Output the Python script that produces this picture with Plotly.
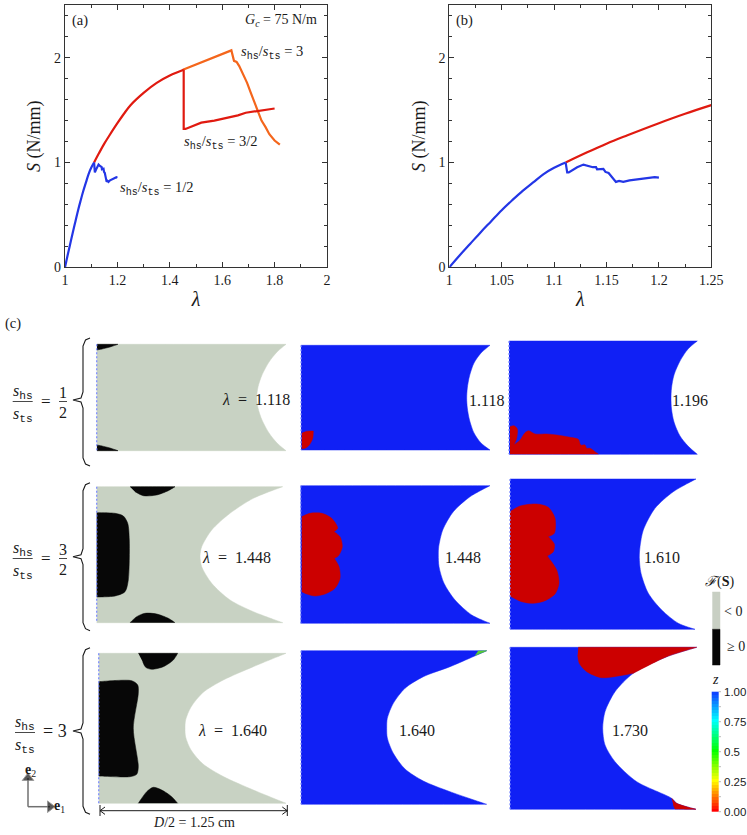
import plotly.graph_objects as go

W, H = 747, 835
FONT = "Liberation Serif"
INK = "#1a1a1a"

# load curves (a) and (b)
BLUE_RISE_LAM = [1.0, 1.01, 1.02, 1.03, 1.04, 1.05, 1.06, 1.07, 1.08, 1.09, 1.10, 1.111]
BLUE_RISE_S = [0.0, 0.115, 0.225, 0.335, 0.44, 0.545, 0.64, 0.73, 0.81, 0.89, 0.95, 1.0]
BLUE_DROP_LAM = [1.111, 1.1125, 1.114, 1.118, 1.122, 1.128, 1.132, 1.137, 1.14, 1.141, 1.147, 1.149, 1.152, 1.154, 1.156,
                 1.159, 1.162, 1.166, 1.172, 1.18, 1.19, 1.196, 1.2]
BLUE_DROP_S = [1.0, 0.905, 0.905, 0.93, 0.955, 0.98, 0.97, 0.955, 0.955, 0.935, 0.94, 0.91, 0.9, 0.875, 0.85,
               0.815, 0.825, 0.815, 0.83, 0.84, 0.855, 0.86, 0.855]
RED_RISE_LAM = [1.111, 1.13, 1.15, 1.17, 1.2, 1.225, 1.25, 1.3, 1.35, 1.4, 1.453]
RED_RISE_S = [1.0, 1.09, 1.18, 1.26, 1.375, 1.465, 1.547, 1.665, 1.76, 1.83, 1.885]
RED_DROP_LAM = [1.453, 1.453, 1.46, 1.48, 1.52, 1.57, 1.62, 1.66, 1.69, 1.73, 1.77, 1.8]
RED_DROP_S = [1.885, 1.32, 1.32, 1.34, 1.38, 1.4, 1.425, 1.45, 1.475, 1.49, 1.505, 1.515]
ORANGE_LAM = [1.45, 1.5, 1.55, 1.6, 1.635, 1.645, 1.655, 1.665, 1.68, 1.695, 1.71, 1.725, 1.74, 1.75, 1.765, 1.78, 1.8, 1.82]
ORANGE_S = [1.885, 1.935, 1.985, 2.035, 2.07, 1.97, 1.96, 1.92, 1.84, 1.76, 1.66, 1.56, 1.48, 1.4, 1.34, 1.27, 1.21, 1.17]

# specimen outlines, page pixels: (left, top, bottom) and the notch edge from top tip to bottom tip
R1C1 = (96.7, 344.3, 450.7)
R1C1_NOTCH = [(286, 344.3), (277, 352), (269, 362), (262, 375), (258, 387), (256.7, 397.5), (258, 408), (262, 420), (269, 433), (277, 443), (286, 450.7)]
R1C2 = (301, 345.3, 450)
R1C2_NOTCH = [(490, 345.3), (481, 353), (474, 363), (469.5, 376), (467.3, 388), (466.7, 398.3), (467.3, 408), (469.5, 420), (474, 433), (481, 443), (490, 450)]
R1C3 = (509, 341, 454.3)
R1C3_NOTCH = [(697.3, 341), (688, 349), (680, 361), (674, 375), (671.5, 388), (671, 398.3), (671.5, 409), (674, 422), (680, 436), (688, 446), (697.3, 454.3)]
R2C1 = (96.7, 486.7, 622.7)
R2C1_NOTCH = [(282.7, 486.7), (253.3, 498.3), (230, 513.3), (211.7, 530), (201.7, 546.7), (200, 556), (201.7, 566.7), (211.7, 583.3), (230, 600), (253.3, 611.7), (282.7, 622.7)]
R2C2 = (300.7, 485.7, 623.3)
R2C2_NOTCH = [(490, 485.7), (470, 496.7), (453.3, 511.7), (442.7, 530), (438.7, 546.7), (438.3, 555), (439, 566.7), (444, 583.3), (455, 600), (471.7, 615), (490, 623.3)]
R2C3 = (510, 479, 629.3)
R2C3_NOTCH = [(696, 479), (673.3, 491.7), (655, 508.3), (643.3, 530), (640, 546.7), (639.3, 557.3), (641, 573.3), (648.3, 593.3), (661.7, 610), (678.3, 623.3), (695, 629.3)]
R3C1 = (98.7, 653.3, 803.3)
R3C1_NOTCH = [(286, 653.3), (253.3, 666.7), (223.3, 680), (203, 692.5), (191, 707), (185.6, 720), (185, 728.3), (185.6, 737), (191, 750), (203, 764), (223.3, 776.5), (253.3, 790), (286, 803.3)]
R3C2 = (301, 650.7, 804.3)
R3C2_NOTCH = [(486.7, 650.7), (450, 666.7), (423.3, 676.7), (405, 688.3), (393.3, 703.3), (387.3, 718.3), (386.7, 728.3), (387.3, 738), (393.3, 753.3), (405, 769), (423.3, 781), (450, 791.7), (486.7, 804.3)]
R3C3 = (510, 647.3, 809.3)
R3C3_NOTCH = [(696.7, 647.3), (666.7, 656.7), (633.3, 673.3), (615, 691.7), (605, 711.7), (602.7, 728.3), (605, 745), (615, 761.7), (636.7, 781.7), (671.7, 798.3), (676.7, 803.3), (696, 809.3)]

# damaged and failure regions
R1C1_BLACK = [
    [(97, 344.3), (97, 344.3), (118, 344.3), (118, 344.3), (110, 347), (102, 349), (97, 350), (97, 350)],
    [(97, 450.7), (97, 450.7), (118, 450.7), (118, 450.7), (110, 448), (102, 446), (97, 445), (97, 445)],
]
R2C1_BLACK = [
    [(130, 486.7), (130, 486.7), (175, 486.7), (175, 486.7), (168.3, 490.7), (156.7, 495), (143.3, 495.7), (135, 491.7)],
    [(130, 622.7), (130, 622.7), (136.7, 616.7), (145, 613.3), (156.7, 614), (168.3, 618.3), (175, 622.7), (175, 622.7)],
    [(96.7, 512.7), (96.7, 512.7), (115, 513.3), (123.3, 516), (127.7, 523.3), (129.3, 540), (128.3, 580), (125, 591.7), (115, 596), (96.7, 597), (96.7, 597)],
]
R3C1_BLACK = [
    [(138.3, 653.3), (138.3, 653.3), (177.7, 653.3), (177.7, 653.3), (173.3, 660), (163.3, 666.7), (151.7, 669.3), (145.7, 667.3), (142.7, 661.7)],
    [(138.3, 803.3), (138.3, 803.3), (146.7, 791.7), (153.3, 787.3), (161.7, 790), (171.7, 796.7), (177.7, 803.3), (177.7, 803.3)],
    [(98.7, 681.7), (98.7, 681.7), (131.7, 680.7), (137.7, 685), (138.3, 693.3), (133.3, 728.3), (138.3, 766.7), (136.7, 774.3), (130, 776.7), (98.7, 776), (98.7, 776)],
]
R1C2_RED = [(301.7, 433.3), (301.7, 433.3), (306.7, 431.3), (313.3, 431), (313.3, 431), (312.7, 438.3), (309.3, 445), (305, 448.3), (301.7, 448.7), (301.7, 448.7)]
R1C3_RED = [(510, 426.7), (514, 425.7), (517.3, 429), (516.7, 438.3), (514, 445), (514, 445), (520, 440), (525, 432.7), (528.7, 430.7), (535, 434), (546.7, 434),
            (556.7, 435), (570, 437.3), (578.3, 439.3), (580.7, 445), (585, 445), (586.7, 448.3), (590, 448.3), (595, 451.7), (598.3, 454), (598.3, 454), (510, 454), (510, 454)]
R2C2_RED = [(301.7, 516.7), (301.7, 516.7), (310, 513.3), (321.7, 513.3), (331.7, 518.3), (337.7, 528.3), (334, 531.7), (334, 531.7), (340, 536.7), (342.3, 546.7), (338.3, 556),
            (334.3, 558.3), (334.3, 558.3), (339, 566.7), (340, 578.3), (335, 588.3), (325, 594), (315, 596), (306.7, 594), (301.7, 591.7), (301.7, 591.7)]
R2C3_RED = [(510, 511.7), (510, 511.7), (520, 506), (536.7, 504), (548.3, 507.3), (555, 518.3), (554.3, 533.3), (548.3, 536.7), (548.3, 536.7), (554.3, 544), (553.3, 551.7), (547.3, 556), (547.3, 556),
            (556.7, 570), (559, 583.3), (555, 594), (545, 600.7), (533.3, 603.3), (521.7, 601.7), (510, 596), (510, 596)]
R3C3_RED_TOP = [(578.3, 647.3), (578.3, 647.3), (696.7, 647.3), (696.7, 647.3), (666.7, 656.7), (633.3, 673.3), (633.3, 673.3), (620, 675.7), (601.7, 677.7), (586.7, 671.7), (579.3, 663.3), (577.7, 655)]
R3C3_RED_BOT = [(671.7, 798.3), (671.7, 798.3), (676.7, 803.3), (696, 809.3), (696, 809.3), (675, 809), (675, 809), (673.3, 805)]
R3C2_GREEN = [(475, 655.6), (486.7, 650.7), (478, 651)]

# (top, tip y, bottom) of each row brace
BRACES = [(338, 400, 466), (482.7, 556.7, 630.7), (647.7, 731, 814.3)]

X_TICKS_A = [1, 1.2, 1.4, 1.6, 1.8, 2]
X_LABELS_A = ["1", "1.2", "1.4", "1.6", "1.8", "2"]
X_TICKS_B = [1, 1.05, 1.1, 1.15, 1.2, 1.25]
X_LABELS_B = ["1", "1.05", "1.1", "1.15", "1.2", "1.25"]
Y_TICKS = [0, 1, 2]
Z_EDGES = [0, 0.025, 0.05, 0.075, 0.1, 0.125, 0.15, 0.175, 0.2, 0.225, 0.25, 0.275, 0.3, 0.325, 0.35, 0.375, 0.4, 0.425, 0.45, 0.475, 0.5,
           0.525, 0.55, 0.575, 0.6, 0.625, 0.65, 0.675, 0.7, 0.725, 0.75, 0.775, 0.8, 0.825, 0.85, 0.875, 0.9, 0.925, 0.95, 0.975, 1]
Z_TICKS = [0, 0.25, 0.5, 0.75, 1]
Z_MINOR = [0.125, 0.375, 0.625, 0.875]
Z_LABELS = ["0.00", "0.25", "0.5", "0.75", "1.00"]
Z_COLORS = [[0, "#ff0000"], [0.25, "#ffff00"], [0.5, "#00ff00"], [0.75, "#00ffff"], [1, "#1030ff"]]

C_BLUE, C_RED, C_ORANGE = "#2336e6", "#e01a10", "#f4661c"
C_FIELD, C_GREY, C_BLACK, C_DMG = "#1020f5", "#c8d2c3", "#070707", "#cc0000"

HS = '<sub><span style="font-family:Liberation Mono">hs</span></sub>'
TS = '<sub><span style="font-family:Liberation Mono">ts</span></sub>'
LAM_EQ = "<i>λ</i>\u2002=\u2002"

def ratio(rhs):
    return f"<i>s</i>{HS}/<i>s</i>{TS} = {rhs}"

fig = go.Figure()

def poly(points, color, smooth=True):
    fig.add_trace(go.Scatter(x=[p[0] for p in points], y=[p[1] for p in points], mode="lines", fill="toself",
                             fillcolor=color, line=dict(color=color, width=0.5, shape="spline" if smooth else "linear", smoothing=0.8),
                             hoverinfo="skip", showlegend=False, xaxis="x3", yaxis="y3"))

def path(xs, ys, color=INK, width=1.0, dash=None, shape="linear"):
    fig.add_trace(go.Scatter(x=xs, y=ys, mode="lines", line=dict(color=color, width=width, dash=dash, shape=shape),
                             hoverinfo="skip", showlegend=False, xaxis="x3", yaxis="y3"))

def specimen(box, notch, color):
    left, top, bottom = box
    tip_a, tip_b = notch[0], notch[-1]
    # doubled points keep the corners sharp under the spline
    poly([(left, top), (left, top), tip_a] + notch + [tip_b, (left, bottom), (left, bottom)], color)

def note(x, y, text, size=16, anchor="center", family=FONT):
    fig.add_annotation(x=x, y=y, xref="x3", yref="y3", text=text, showarrow=False, xanchor=anchor, yanchor="middle",
                       font=dict(family=family, size=size, color=INK))

def curve(xs, ys, c, ax, smooth=False):
    fig.add_trace(go.Scatter(x=xs, y=ys, mode="lines", line=dict(color=c, width=2.2, shape="spline" if smooth else "linear"),
                             showlegend=False, xaxis="x" + ax, yaxis="y" + ax))

# panel (a): orange and red first so that blue stays on top
curve(ORANGE_LAM, ORANGE_S, C_ORANGE, "")
curve(RED_RISE_LAM, RED_RISE_S, C_RED, "", smooth=True)
curve(RED_DROP_LAM, RED_DROP_S, C_RED, "")
curve(BLUE_RISE_LAM, BLUE_RISE_S, C_BLUE, "", smooth=True)
curve(BLUE_DROP_LAM, BLUE_DROP_S, C_BLUE, "")
# panel (b)
curve(RED_RISE_LAM[:7], RED_RISE_S[:7], C_RED, "2", smooth=True)
curve(BLUE_RISE_LAM, BLUE_RISE_S, C_BLUE, "2", smooth=True)
curve(BLUE_DROP_LAM, BLUE_DROP_S, C_BLUE, "2")

# panel (c)
specimen(R1C1, R1C1_NOTCH, C_GREY)
specimen(R2C1, R2C1_NOTCH, C_GREY)
specimen(R3C1, R3C1_NOTCH, C_GREY)
for blob in R1C1_BLACK + R2C1_BLACK + R3C1_BLACK:
    poly(blob, C_BLACK)
specimen(R1C2, R1C2_NOTCH, C_FIELD)
specimen(R1C3, R1C3_NOTCH, C_FIELD)
specimen(R2C2, R2C2_NOTCH, C_FIELD)
specimen(R2C3, R2C3_NOTCH, C_FIELD)
specimen(R3C2, R3C2_NOTCH, C_FIELD)
specimen(R3C3, R3C3_NOTCH, C_FIELD)
for blob in [R1C2_RED, R1C3_RED, R2C2_RED, R2C3_RED, R3C3_RED_TOP, R3C3_RED_BOT]:
    poly(blob, C_DMG)
poly(R3C2_GREEN, "#55cc33", smooth=False)

# dotted symmetry edge on the left of each specimen
for left, top, bottom in [R1C1, R1C2, R1C3, R2C1, R2C2, R2C3, R3C1, R3C2, R3C3]:
    path([left, left], [top, bottom], color="#8090ff", width=1.3, dash="2px,2px")

for top, tip, bottom in BRACES:
    path([90, 85.5, 83, 83, 81, 73, 81, 83, 83, 85.5, 90],
         [top, top + 2, top + 8, tip - 8, tip - 2, tip, tip + 2, tip + 8, bottom - 8, bottom - 2, bottom], width=1.1)

# row labels with stacked fractions
for y, num, den in [(400, "1", "2"), (557, "3", "2"), (731, None, None)]:
    cx = 22.7 if num else 25
    note(cx, y - 8, f"<i>s</i>{HS}", size=16)
    note(cx, y + 15, f"<i>s</i>{TS}", size=16)
    path([cx - 10, cx + 10], [y + 1.5, y + 1.5], width=0.8)
    if num:
        note(46, y + 1, "=", size=17)
        note(63, y - 8, num, size=16)
        note(63, y + 12, den, size=16)
        path([59, 67], [y + 1.5, y + 1.5], width=0.8)
    else:
        note(55, y, "= 3", size=18)

for x, y, text in [(255.7, 399, LAM_EQ + "1.118"), (486.7, 400, "1.118"), (690, 400, "1.196"),
                   (236, 557, LAM_EQ + "1.448"), (463, 557, "1.448"), (661.7, 557, "1.610"),
                   (232.7, 730.7, LAM_EQ + "1.640"), (416.7, 730.7, "1.640"), (630, 730.7, "1.730")]:
    note(x, y, text, size=16)

note(80, 20, "(a)", size=14.5)
note(464, 20, "(b)", size=14.5)
note(13, 323, "(c)", size=14.5)
note(281, 20, "<i>G<sub>c</sub></i> = 75 N/m", size=14)
note(272, 52, ratio("3"), size=14.5)
note(221, 142, ratio("3/2"), size=14.5)
note(157, 188, ratio("1/2"), size=14.5)

# failure-surface key
poly([(712.3, 592), (720, 592), (720, 629.3), (712.3, 629.3)], "#c8cfc3", smooth=False)
poly([(712.3, 629.3), (720, 629.3), (720, 665), (712.3, 665)], C_BLACK, smooth=False)
note(719, 581.7, "<i>ℱ</i>(<b>S</b>)", size=14)
note(722, 611.7, "&lt; 0", size=14, anchor="left")
note(725, 646.7, "≥ 0", size=14, anchor="left")
note(715, 679, "<i>z</i>", size=14)

# z key as a heatmap on the page axes (a colorbar would push the margins)
Z_TOP, Z_BOTTOM = 691.7, 811.7
def z_pixel(z):
    return Z_BOTTOM - (Z_BOTTOM - Z_TOP) * z

fig.add_trace(go.Heatmap(x=[711.7, 718.3], y=[z_pixel(z) for z in Z_EDGES], z=[[z] for z in Z_EDGES[:-1]], zmin=0, zmax=1,
                         colorscale=Z_COLORS, showscale=False, hoverinfo="skip", xaxis="x3", yaxis="y3"))
for z in Z_TICKS + Z_MINOR:
    path([718.6, 721], [z_pixel(z), z_pixel(z)], color="#aaaaaa", width=0.8)
for z, label in zip(Z_TICKS, Z_LABELS):
    note(722, z_pixel(z), label, size=11.5, anchor="left", family="Liberation Sans")

# e1/e2 triad
fig.add_trace(go.Scatter(x=[28, 28], y=[806.7, 778], mode="lines+markers", line=dict(color="#707070", width=1.5), hoverinfo="skip", showlegend=False,
                         marker=dict(symbol="triangle-up", size=[0, 10], color="#111111"), xaxis="x3", yaxis="y3"))
fig.add_trace(go.Scatter(x=[28, 50], y=[806.7, 806.7], mode="lines+markers", line=dict(color="#707070", width=1.5), hoverinfo="skip", showlegend=False,
                         marker=dict(symbol="triangle-right", size=[0, 10], color="#111111"), xaxis="x3", yaxis="y3"))
note(30, 770, "<b>e</b><sub>2</sub>", size=14)
note(59, 806, "<b>e</b><sub>1</sub>", size=14)

# D/2 dimension line
path([100, 287.3], [810.7, 810.7], width=1.0)
path([100, 100], [805, 816], width=1.0)
path([287.3, 287.3], [805, 816], width=1.0)
path([105, 100, 105], [807, 810.7, 814.4], width=1.0)
path([282.3, 287.3, 282.3], [807, 810.7, 814.4], width=1.0)
note(194, 822, "<i>D</i>/2 = 1.25 cm", size=14)

axis_style = dict(showgrid=False, zeroline=False, showline=True, linecolor="#333333", linewidth=1.2, mirror="allticks",
                  ticks="inside", ticklen=5, tickcolor="#333333", automargin=False,
                  tickfont=dict(family=FONT, size=14, color=INK))

fig.update_layout(
    width=W, height=H, margin=dict(l=0, r=0, t=0, b=0, autoexpand=False), paper_bgcolor="white", plot_bgcolor="rgba(0,0,0,0)",
    xaxis=dict(domain=[65 / W, 327 / W], range=[1, 2], tickmode="array", tickvals=X_TICKS_A, ticktext=X_LABELS_A,
               minor=dict(dtick=0.1, ticks="inside", ticklen=3, tickcolor="#333333"), anchor="y",
               title=dict(text="<i>λ</i>", font=dict(family=FONT, size=20, color=INK), standoff=4), **axis_style),
    yaxis=dict(domain=[1 - 267.3 / H, 1 - 5.3 / H], range=[0, 2.5], tickmode="array", tickvals=Y_TICKS,
               minor=dict(dtick=0.2, ticks="inside", ticklen=3, tickcolor="#333333"), anchor="x",
               title=dict(text="<i>S</i> (N/mm)", font=dict(family=FONT, size=18, color=INK), standoff=8), **axis_style),
    xaxis2=dict(domain=[449.3 / W, 711.3 / W], range=[1, 1.25], tickmode="array", tickvals=X_TICKS_B, ticktext=X_LABELS_B,
                minor=dict(dtick=0.025, ticks="inside", ticklen=3, tickcolor="#333333"), anchor="y2",
                title=dict(text="<i>λ</i>", font=dict(family=FONT, size=20, color=INK), standoff=4), **axis_style),
    yaxis2=dict(domain=[1 - 267.3 / H, 1 - 5.3 / H], range=[0, 2.5], tickmode="array", tickvals=Y_TICKS,
                minor=dict(dtick=0.2, ticks="inside", ticklen=3, tickcolor="#333333"), anchor="x2",
                title=dict(text="<i>S</i> (N/mm)", font=dict(family=FONT, size=18, color=INK), standoff=8), **axis_style),
    xaxis3=dict(domain=[0, 1], range=[0, W], visible=False, anchor="y3", automargin=False),
    yaxis3=dict(domain=[0, 1], range=[H, 0], visible=False, anchor="x3", automargin=False),
)

# drop the browser's default page margin so the figure sits at the window origin
fig.write_html("out.html", config={"displayModeBar": False},
               post_script="document.body.style.margin='0';document.documentElement.style.overflow='hidden';")
